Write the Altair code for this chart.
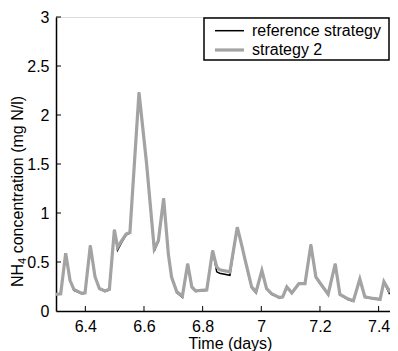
import altair as alt
import pandas as pd

# ---- data ----
time_days = [6.300, 6.316, 6.333, 6.348, 6.361, 6.388, 6.399, 6.417, 6.433, 6.448,
             6.467, 6.482, 6.499, 6.510, 6.524, 6.539, 6.552, 6.583, 6.609, 6.635,
             6.649, 6.667, 6.683, 6.694, 6.712, 6.731, 6.749, 6.763, 6.776, 6.814,
             6.834, 6.848, 6.858, 6.893, 6.918, 6.933, 6.944, 6.967, 6.982, 7.002,
             7.018, 7.035, 7.061, 7.073, 7.087, 7.104, 7.128, 7.149, 7.169, 7.186,
             7.206, 7.228, 7.252, 7.268, 7.297, 7.314, 7.336, 7.353, 7.382, 7.405,
             7.418, 7.436, 7.450, 7.469]

strategy2 = [0.170, 0.175, 0.590, 0.310, 0.220, 0.180, 0.185, 0.667, 0.350, 0.230,
             0.205, 0.222, 0.828, 0.650, 0.717, 0.785, 0.800, 2.230, 1.500, 0.633,
             0.717, 1.148, 0.583, 0.347, 0.195, 0.152, 0.482, 0.246, 0.205, 0.215,
             0.616, 0.450, 0.420, 0.400, 0.855, 0.675, 0.532, 0.246, 0.195, 0.414,
             0.229, 0.178, 0.138, 0.145, 0.246, 0.185, 0.279, 0.279, 0.677, 0.347,
             0.263, 0.172, 0.482, 0.169, 0.121, 0.104, 0.326, 0.145, 0.128, 0.118,
             0.300, 0.205, 0.246, 0.280]

reference = [0.170, 0.175, 0.590, 0.310, 0.210, 0.175, 0.180, 0.667, 0.350, 0.225,
             0.200, 0.215, 0.828, 0.620, 0.700, 0.775, 0.795, 2.230, 1.500, 0.610,
             0.710, 1.148, 0.580, 0.340, 0.185, 0.140, 0.482, 0.240, 0.200, 0.210,
             0.616, 0.400, 0.385, 0.364, 0.850, 0.670, 0.520, 0.235, 0.185, 0.410,
             0.225, 0.170, 0.135, 0.140, 0.240, 0.180, 0.275, 0.275, 0.677, 0.340,
             0.255, 0.165, 0.480, 0.165, 0.115, 0.100, 0.326, 0.140, 0.125, 0.115,
             0.300, 0.180, 0.230, 0.270]

series_names = ["reference strategy", "strategy 2"]
x_ticks = [6.4, 6.6, 6.8, 7.0, 7.2, 7.4]
y_ticks = [0, 0.5, 1, 1.5, 2, 2.5, 3]
y_title_parts = ["NH", "4", "concentration (mg N/l)"]
x_title = "Time (days)"

FONT = "Liberation Sans"
GRAY = "#a3a3a3"
W, H = 334, 294
X_DOMAIN = [6.3, 7.4388]

ref_df = pd.DataFrame({"t": time_days, "v": reference})
s2_df = pd.DataFrame({"t": time_days, "v": strategy2})
xt_df = pd.DataFrame({"t": x_ticks})
yt_df = pd.DataFrame({"v": y_ticks[1:]})

xs = alt.Scale(domain=X_DOMAIN, nice=False, zero=False)
ys = alt.Scale(domain=[0, 3], nice=False)

x_axis = alt.Axis(values=x_ticks, format="~g", title=x_title, grid=False,
                  ticks=False, tickSize=0, labelPadding=7, labelFontSize=16,
                  titleFontSize=16, titleFontWeight="normal", titleY=37,
                  titleX=174, titleBaseline="alphabetic", titleAlign="center",
                  domainColor="black", domainWidth=1.5, labelColor="black",
                  titleColor="black", labelFont=FONT, titleFont=FONT)
y_axis = alt.Axis(values=y_ticks, format="~g", title=None,
                  grid=False, ticks=False, tickSize=0, labelPadding=7,
                  labelFontSize=16, domainColor="black", domainWidth=1.5,
                  labelColor="black", labelFont=FONT)

ref_line = alt.Chart(ref_df).mark_line(color="black", strokeWidth=1.5, clip=True).encode(
    x=alt.X("t:Q", scale=xs, axis=x_axis),
    y=alt.Y("v:Q", scale=ys, axis=y_axis),
)
s2_line = alt.Chart(s2_df).mark_line(color=GRAY, strokeWidth=3.2, clip=True).encode(
    x=alt.X("t:Q", scale=xs),
    y=alt.Y("v:Q", scale=ys),
)

x_tick_marks = alt.Chart(xt_df).mark_rule(color="black", strokeWidth=1).encode(
    x=alt.X("t:Q", scale=xs), y=alt.value(H), y2=alt.value(H - 5)
)
y_tick_marks = alt.Chart(yt_df).mark_rule(color="black", strokeWidth=1).encode(
    y=alt.Y("v:Q", scale=ys), x=alt.value(0), x2=alt.value(5)
)

one = alt.Data(values=[{"a": 1}])

# y-axis title with a real subscript
def ytxt(text, x, y, size):
    return alt.Chart(one).mark_text(align="left", baseline="alphabetic", angle=270,
                                    fontSize=size, font=FONT, color="black").encode(
        x=alt.value(x), y=alt.value(y), text=alt.value(text))

yt1 = ytxt(y_title_parts[0], -33, 270, 16)
yt2 = ytxt(y_title_parts[1], -30, 246.9, 11)
yt3 = ytxt(y_title_parts[2], -33, 236.3, 16)

LX = 148
legend_box = alt.Chart(one).mark_rect(fill="white", stroke="black", strokeWidth=1.5).encode(
    x=alt.value(LX), x2=alt.value(LX + 185), y=alt.value(1), y2=alt.value(43)
)
leg_ref_line = alt.Chart(one).mark_rule(color="black", strokeWidth=1.5).encode(
    x=alt.value(LX + 11), x2=alt.value(LX + 40), y=alt.value(13.7)
)
leg_s2_line = alt.Chart(one).mark_rule(color=GRAY, strokeWidth=3.2).encode(
    x=alt.value(LX + 11), x2=alt.value(LX + 40), y=alt.value(33)
)
leg_ref_text = alt.Chart(one).mark_text(align="left", baseline="middle", fontSize=16,
                                        font=FONT, color="black").encode(
    x=alt.value(LX + 48), y=alt.value(13.7), text=alt.value(series_names[0])
)
leg_s2_text = alt.Chart(one).mark_text(align="left", baseline="middle", fontSize=16,
                                       font=FONT, color="black").encode(
    x=alt.value(LX + 48), y=alt.value(33.4), text=alt.value(series_names[1])
)

chart = alt.layer(
    ref_line, s2_line, x_tick_marks, y_tick_marks, yt1, yt2, yt3,
    legend_box, leg_ref_line, leg_s2_line, leg_ref_text, leg_s2_text
).properties(
    width=W, height=H,
    autosize=alt.AutoSizeParams(type="none"),
    padding={"left": 48, "top": 9, "right": 0, "bottom": 40},
).configure_view(stroke=None).configure(background="white")

chart.save("out.html", embed_options={"renderer": "svg", "actions": False})
